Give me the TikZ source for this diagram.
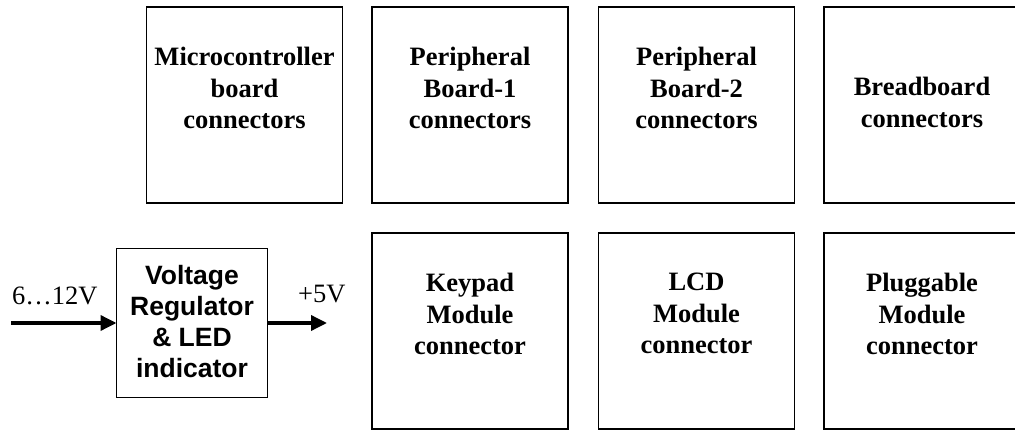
\documentclass[tikz,border=0pt]{standalone}
\usepackage{fontspec}
\setmainfont{Liberation Serif}
\newfontfamily\arialfont{Liberation Sans}
\usetikzlibrary{arrows.meta}
\begin{document}
\begin{tikzpicture}[x=1pt,y=-1pt,
  box/.style={draw, line width=1.6pt, minimum width=196pt, minimum height=196pt, inner sep=0pt, outer sep=0pt},
  vrbox/.style={draw, line width=1.6pt, minimum width=151pt, minimum height=149pt, inner sep=0pt, outer sep=0pt},
  lbl/.style={font=\fontsize{26.5}{31.5}\selectfont\bfseries, align=center, anchor=north, inner sep=0pt},
  vrlbl/.style={font=\arialfont\fontsize{26.5}{31}\selectfont\bfseries, align=center, anchor=north, inner sep=0pt},
  vlt/.style={font=\fontsize{26.5}{31}\selectfont, inner sep=0pt},
  arr/.style={line width=3.5pt, -{Triangle[length=16pt,width=15pt]}}]
\clip (0,0) rectangle (1015,430);
% top row
\node[box] (mc) at (244.5,105) {};
\node[lbl] (mct) at (244.5,47) {Microcontroller\\board\\connectors};
\node[box] (pb1) at (470,105) {};
\node[lbl] (pb1t) at (470,47) {Peripheral\\Board-1\\connectors};
\node[box] (pb2) at (696.5,105) {};
\node[lbl] (pb2t) at (696.5,47) {Peripheral\\Board-2\\connectors};
\node[box] (bb) at (922,105) {};
\node[lbl] (bbt) at (922,77) {Breadboard\\connectors};
% bottom row
\node[box] (kp) at (470,331) {};
\node[lbl] (kpt) at (470,273) {Keypad\\Module\\connector};
\node[box] (lcd) at (696.5,331) {};
\node[lbl] (lcdt) at (696.5,273) {LCD\\Module\\connector};
\node[box] (pm) at (922,331) {};
\node[lbl] (pmt) at (922,273) {Pluggable\\Module\\connector};
% regulator
\node[vrbox] (vr) at (192,323) {};
\node[vrlbl] (vrt) at (192,265) {Voltage\\Regulator\\\& LED\\indicator};
\coordinate (in) at (11,323);
\coordinate (out) at (327,323);
\draw[arr] (in) -- (vr.west);
\draw[arr] (vr.east) -- (out);
\node[vlt, anchor=base west] (vin) at (12,305) {6…12V};
\node[vlt, anchor=base west] (vout) at (298,303) {+5V};
\end{tikzpicture}
\end{document}
